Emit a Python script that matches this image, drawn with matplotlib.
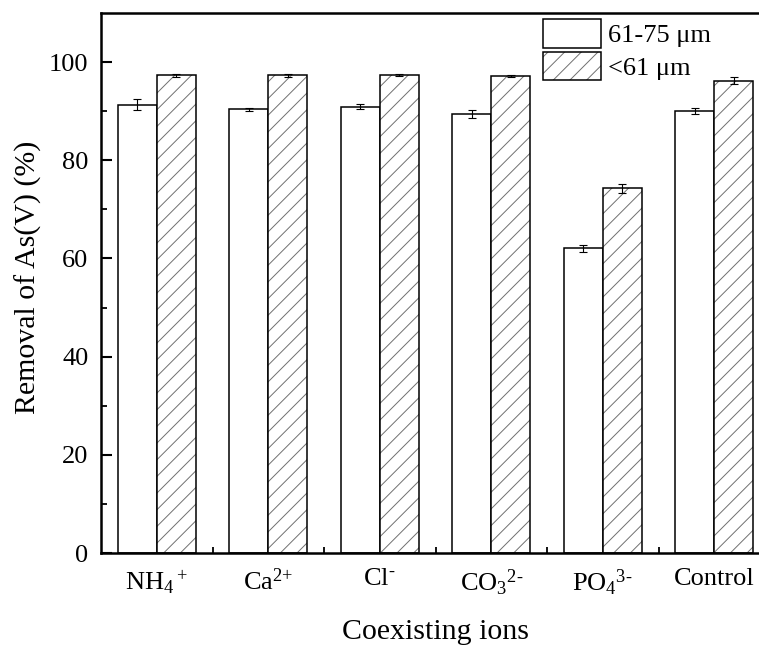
import matplotlib
matplotlib.use("Agg")
import matplotlib.pyplot as plt
import numpy as np
from matplotlib.ticker import FixedLocator

plt.rcParams['font.family'] = ['Liberation Serif', 'DejaVu Serif']
plt.rcParams['mathtext.default'] = 'regular'
plt.rcParams['hatch.linewidth'] = 0.7

HY = '\u2010'  # short hyphen for the negative charges
ions = ['NH$_4$$^+$', 'Ca$^{2{+}}$', 'Cl$^{' + HY + '}$', 'CO$_3$$^{2' + HY + '}$',
        'PO$_4$$^{3' + HY + '}$', 'Control']
coarse = [91.3, 90.4, 90.9, 89.4, 62.1, 90.0]       # 61-75 um
coarse_err = [1.1, 0.3, 0.5, 0.8, 0.7, 0.55]
fine = [97.3, 97.3, 97.3, 97.1, 74.3, 96.2]         # <61 um
fine_err = [0.3, 0.3, 0.2, 0.2, 0.9, 0.75]
labels = ['61-75 \u03bcm', '<61 \u03bcm']

W, H = 759, 648
fig = plt.figure(figsize=(W / 100, H / 100), dpi=100)
# right spine sits outside the picture in the original
ax = fig.add_axes([101 / W, 95 / H, 669 / W, 540 / H])

x = np.arange(len(ions))
bw = 0.35
err_kw = dict(ecolor='black', elinewidth=0.8, capsize=3, capthick=0.8)

b1 = ax.bar(x - bw / 2, coarse, bw, yerr=coarse_err, color='white',
            edgecolor='black', linewidth=1.1, error_kw=err_kw, zorder=2)
# hatch in grey, outline in black
bh = ax.bar(x + bw / 2, fine, bw, color='white', edgecolor='#707070',
            hatch='//', linewidth=0, zorder=2)
b2 = ax.bar(x + bw / 2, fine, bw, yerr=fine_err, fill=False,
            edgecolor='black', linewidth=1.1, error_kw=err_kw, zorder=3)

ax.set_xlim(-0.5, len(ions) - 0.5)
ax.set_ylim(0, 110)
ax.yaxis.set_major_locator(FixedLocator([0, 20, 40, 60, 80, 100]))
ax.yaxis.set_minor_locator(FixedLocator([10, 30, 50, 70, 90]))
ax.set_xticks(x)
ax.set_xticklabels(ions)
ax.xaxis.set_minor_locator(FixedLocator(x[:-1] + 0.5))

ax.tick_params(axis='y', which='major', direction='in', length=8, width=1.5,
               labelsize=19, pad=9)
ax.tick_params(axis='y', which='minor', direction='in', length=4.5, width=1.3)
ax.tick_params(axis='x', which='major', length=0, labelsize=19, pad=11)
ax.tick_params(axis='x', which='minor', direction='in', length=4, width=1.3)
ax.tick_params(right=False, top=False, which='both')

for s in ax.spines.values():
    s.set_linewidth(1.8)

ax.set_ylabel('Removal of As(V) (%)', fontsize=21.5)
ax.yaxis.set_label_coords(-59 / 669, 0.51)
ax.set_xlabel('Coexisting ions', fontsize=21.5)
ax.xaxis.set_label_coords(0.5, -66 / 540)

leg = fig.legend([b1[0], (bh[0], b2[0])], labels, loc='upper left',
                 bbox_to_anchor=(543 / W, 1 - 19 / H), frameon=False,
                 fontsize=19, handlelength=2.2, handleheight=1.3,
                 handletextpad=0.25, labelspacing=0.15, borderpad=0,
                 borderaxespad=0)

fig.savefig('out.png', dpi=100)
